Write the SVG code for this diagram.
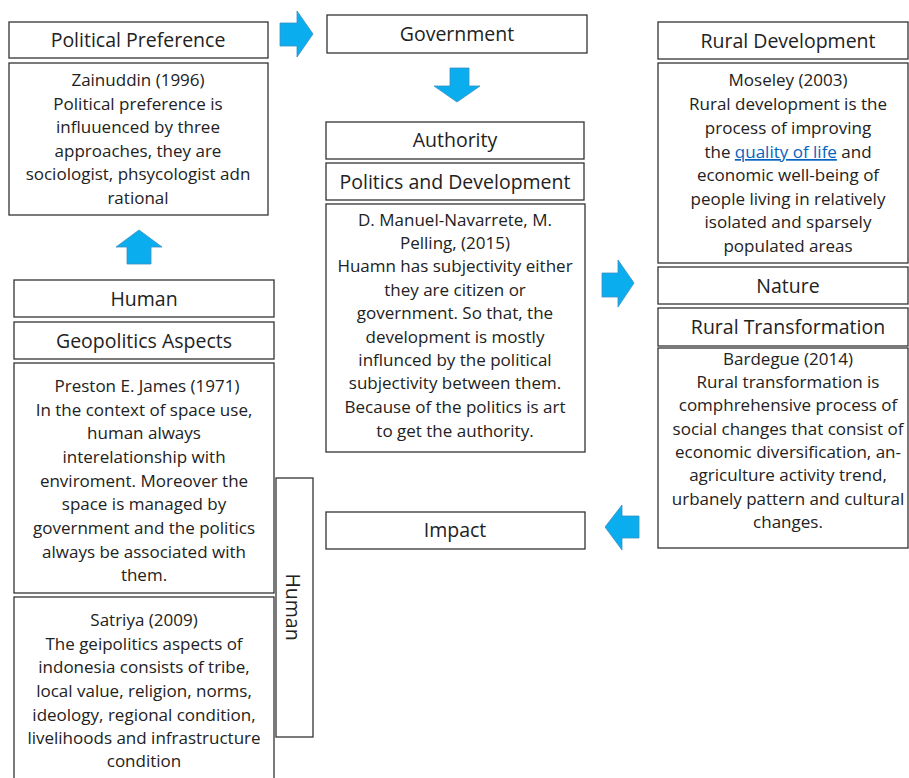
<svg xmlns="http://www.w3.org/2000/svg" width="909" height="778" viewBox="0 0 909 778">
<style>
.box{fill:#fff;stroke:#333;stroke-width:1.3}
.t{font-family:"Open Sans","Liberation Sans",Arial,sans-serif;font-size:19.5px;fill:#222;text-anchor:middle}
.b{font-family:"Open Sans","Liberation Sans",Arial,sans-serif;font-size:17px;fill:#222;text-anchor:middle}
.arr{fill:#0AAEEE;stroke:#3A8FC4;stroke-width:0.8}
.lnk{fill:#0563C1;text-decoration:underline}
</style>
<rect width="909" height="778" fill="#fff"/>
<g id="connectors">
<polygon class="arr" points="280,23 297,23 297,11 313,34 297,57 297,46 280,46"/>
<polygon class="arr" points="450,68 469,68 469,86 480,86 457,102 434,86 450,86"/>
<polygon class="arr" points="602,273 618,273 618,260 634,283 618,307 618,297 602,297"/>
<polygon class="arr" points="639,516 622,516 622,505 605,527 622,550 622,538 639,538"/>
<polygon class="arr" points="127,264 127,247 116,247 139,230 162,247 151,247 151,264"/>
</g>
<g id="political-preference">
<rect class="box" x="9" y="22" width="259" height="36"/>
<text class="t" x="138" y="47">Political Preference</text>
</g>
<g id="zainuddin">
<rect class="box" x="9" y="63" width="259" height="152"/>
<text class="b" x="138" y="86">Zainuddin (1996)</text>
<text class="b" x="138" y="110">Political preference is</text>
<text class="b" x="138" y="133">influuenced by three</text>
<text class="b" x="138" y="157">approaches, they are</text>
<text class="b" x="138" y="180">sociologist, phsycologist adn</text>
<text class="b" x="138" y="204">rational</text>
</g>
<g id="government">
<rect class="box" x="327" y="15" width="260" height="38"/>
<text class="t" x="457" y="41">Government</text>
</g>
<g id="authority">
<rect class="box" x="326" y="122" width="258" height="37"/>
<text class="t" x="455" y="147">Authority</text>
</g>
<g id="politics-development">
<rect class="box" x="326" y="163" width="258" height="37"/>
<text class="t" x="455" y="189">Politics and Development</text>
</g>
<g id="manuel">
<rect class="box" x="326" y="204" width="259" height="248"/>
<text class="b" x="455" y="226">D. Manuel-Navarrete, M.</text>
<text class="b" x="455" y="249">Pelling, (2015)</text>
<text class="b" x="455" y="272">Huamn has subjectivity either</text>
<text class="b" x="455" y="296">they are citizen or</text>
<text class="b" x="455" y="319">government. So that, the</text>
<text class="b" x="455" y="343">development is mostly</text>
<text class="b" x="455" y="366">influnced by the political</text>
<text class="b" x="455" y="389">subjectivity between them.</text>
<text class="b" x="455" y="413">Because of the politics is art</text>
<text class="b" x="455" y="437">to get the authority.</text>
</g>
<g id="rural-development">
<rect class="box" x="658" y="22" width="250" height="37"/>
<text class="t" x="788" y="48">Rural Development</text>
</g>
<g id="moseley">
<rect class="box" x="658" y="63" width="250" height="200"/>
<text class="b" x="788" y="86">Moseley (2003)</text>
<text class="b" x="788" y="110">Rural development is the</text>
<text class="b" x="788" y="134">process of improving</text>
<text class="b" x="788" y="158">the <tspan class="lnk">quality of life</tspan> and</text>
<text class="b" x="788" y="181">economic well-being of</text>
<text class="b" x="788" y="205">people living in relatively</text>
<text class="b" x="788" y="228">isolated and sparsely</text>
<text class="b" x="788" y="252">populated areas</text>
</g>
<g id="nature">
<rect class="box" x="658" y="267" width="250" height="37"/>
<text class="t" x="788" y="293">Nature</text>
</g>
<g id="rural-transformation">
<rect class="box" x="658" y="308" width="250" height="38"/>
<text class="t" x="788" y="334">Rural Transformation</text>
</g>
<g id="bardegue">
<rect class="box" x="658" y="348" width="250" height="200"/>
<text class="b" x="788" y="365">Bardegue (2014)</text>
<text class="b" x="788" y="388">Rural transformation is</text>
<text class="b" x="788" y="411">comphrehensive process of</text>
<text class="b" x="788" y="435">social changes that consist of</text>
<text class="b" x="788" y="458">economic diversification, an-</text>
<text class="b" x="788" y="481">agriculture activity trend,</text>
<text class="b" x="788" y="505">urbanely pattern and  cultural</text>
<text class="b" x="788" y="528">changes.</text>
</g>
<g id="impact">
<rect class="box" x="326" y="512" width="259" height="37"/>
<text class="t" x="455" y="537">Impact</text>
</g>
<g id="human">
<rect class="box" x="14" y="280" width="260" height="37"/>
<text class="t" x="144" y="306">Human</text>
</g>
<g id="geopolitics-aspects">
<rect class="box" x="14" y="322" width="260" height="37"/>
<text class="t" x="144" y="348">Geopolitics Aspects</text>
</g>
<g id="preston">
<rect class="box" x="14" y="363" width="260" height="230"/>
<text class="b" x="147" y="392">Preston E. James (1971)</text>
<text class="b" x="144" y="416">In the context of space use,</text>
<text class="b" x="144" y="439">human always</text>
<text class="b" x="144" y="463">interelationship with</text>
<text class="b" x="144" y="487">enviroment. Moreover the</text>
<text class="b" x="144" y="510">space is managed by</text>
<text class="b" x="144" y="534">government and the politics</text>
<text class="b" x="144" y="558">always be associated with</text>
<text class="b" x="144" y="581">them.</text>
</g>
<g id="satriya">
<rect class="box" x="14" y="597" width="260" height="190"/>
<text class="b" x="144" y="626">Satriya (2009)</text>
<text class="b" x="144" y="650">The geipolitics aspects of</text>
<text class="b" x="144" y="673">indonesia consists of tribe,</text>
<text class="b" x="144" y="697">local value, religion, norms,</text>
<text class="b" x="144" y="721">ideology, regional condition,</text>
<text class="b" x="144" y="744">livelihoods and infrastructure</text>
<text class="b" x="144" y="767">condition</text>
</g>
<g id="human-vertical">
<rect class="box" x="276" y="478" width="37" height="259"/>
<text class="t" transform="translate(293,607) rotate(90)" x="0" y="7">Human</text>
</g>
</svg>
